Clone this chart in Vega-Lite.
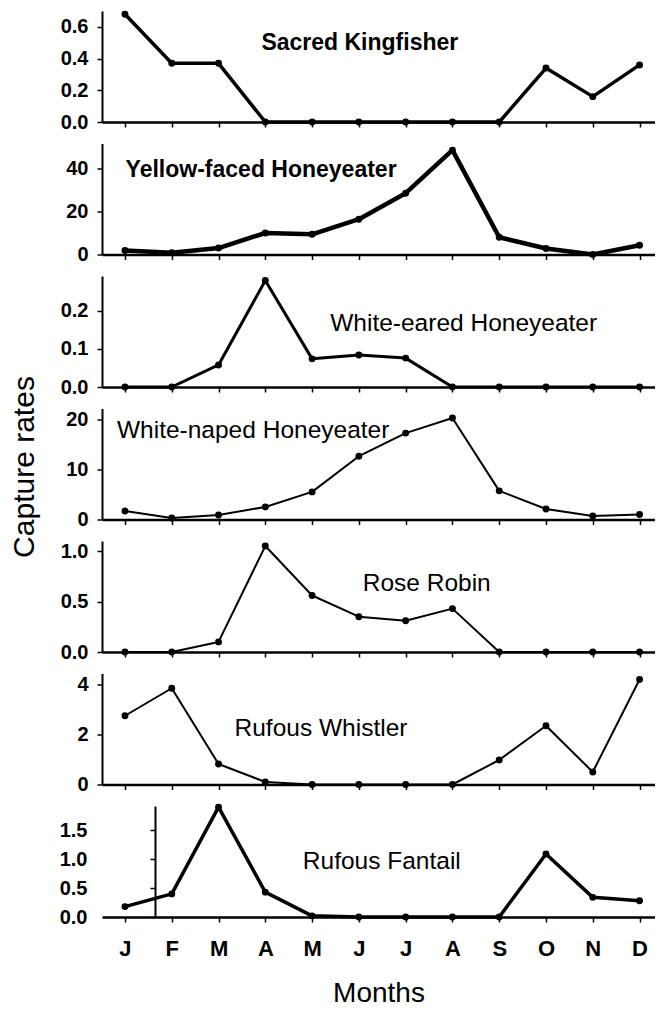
{
  "$schema": "https://vega.github.io/schema/vega-lite/v6.json",
  "padding": {"left": 9, "top": 10, "right": 0, "bottom": 0},
  "background": "white",
  "bounds": "flush",
  "spacing": 21.5,
  "datasets": {
    "rates": [
      {"species": "Sacred Kingfisher", "month": 1, "rate": 0.68},
      {"species": "Sacred Kingfisher", "month": 2, "rate": 0.37},
      {"species": "Sacred Kingfisher", "month": 3, "rate": 0.37},
      {"species": "Sacred Kingfisher", "month": 4, "rate": 0},
      {"species": "Sacred Kingfisher", "month": 5, "rate": 0},
      {"species": "Sacred Kingfisher", "month": 6, "rate": 0},
      {"species": "Sacred Kingfisher", "month": 7, "rate": 0},
      {"species": "Sacred Kingfisher", "month": 8, "rate": 0},
      {"species": "Sacred Kingfisher", "month": 9, "rate": 0},
      {"species": "Sacred Kingfisher", "month": 10, "rate": 0.34},
      {"species": "Sacred Kingfisher", "month": 11, "rate": 0.16},
      {"species": "Sacred Kingfisher", "month": 12, "rate": 0.36},
      {"species": "Yellow-faced Honeyeater", "month": 1, "rate": 1.9},
      {"species": "Yellow-faced Honeyeater", "month": 2, "rate": 0.8},
      {"species": "Yellow-faced Honeyeater", "month": 3, "rate": 3},
      {"species": "Yellow-faced Honeyeater", "month": 4, "rate": 10},
      {"species": "Yellow-faced Honeyeater", "month": 5, "rate": 9.4},
      {"species": "Yellow-faced Honeyeater", "month": 6, "rate": 16.4},
      {"species": "Yellow-faced Honeyeater", "month": 7, "rate": 28.5},
      {"species": "Yellow-faced Honeyeater", "month": 8, "rate": 48.5},
      {"species": "Yellow-faced Honeyeater", "month": 9, "rate": 8},
      {"species": "Yellow-faced Honeyeater", "month": 10, "rate": 2.8},
      {"species": "Yellow-faced Honeyeater", "month": 11, "rate": 0},
      {"species": "Yellow-faced Honeyeater", "month": 12, "rate": 4.3},
      {"species": "White-eared Honeyeater", "month": 1, "rate": 0},
      {"species": "White-eared Honeyeater", "month": 2, "rate": 0},
      {"species": "White-eared Honeyeater", "month": 3, "rate": 0.058},
      {"species": "White-eared Honeyeater", "month": 4, "rate": 0.28},
      {"species": "White-eared Honeyeater", "month": 5, "rate": 0.074},
      {"species": "White-eared Honeyeater", "month": 6, "rate": 0.084},
      {"species": "White-eared Honeyeater", "month": 7, "rate": 0.076},
      {"species": "White-eared Honeyeater", "month": 8, "rate": 0},
      {"species": "White-eared Honeyeater", "month": 9, "rate": 0},
      {"species": "White-eared Honeyeater", "month": 10, "rate": 0},
      {"species": "White-eared Honeyeater", "month": 11, "rate": 0},
      {"species": "White-eared Honeyeater", "month": 12, "rate": 0},
      {"species": "White-naped Honeyeater", "month": 1, "rate": 1.7},
      {"species": "White-naped Honeyeater", "month": 2, "rate": 0.3},
      {"species": "White-naped Honeyeater", "month": 3, "rate": 0.9},
      {"species": "White-naped Honeyeater", "month": 4, "rate": 2.5},
      {"species": "White-naped Honeyeater", "month": 5, "rate": 5.5},
      {"species": "White-naped Honeyeater", "month": 6, "rate": 12.6},
      {"species": "White-naped Honeyeater", "month": 7, "rate": 17.2},
      {"species": "White-naped Honeyeater", "month": 8, "rate": 20.2},
      {"species": "White-naped Honeyeater", "month": 9, "rate": 5.7},
      {"species": "White-naped Honeyeater", "month": 10, "rate": 2.1},
      {"species": "White-naped Honeyeater", "month": 11, "rate": 0.7},
      {"species": "White-naped Honeyeater", "month": 12, "rate": 1.0},
      {"species": "Rose Robin", "month": 1, "rate": 0},
      {"species": "Rose Robin", "month": 2, "rate": 0},
      {"species": "Rose Robin", "month": 3, "rate": 0.1},
      {"species": "Rose Robin", "month": 4, "rate": 1.05},
      {"species": "Rose Robin", "month": 5, "rate": 0.56},
      {"species": "Rose Robin", "month": 6, "rate": 0.35},
      {"species": "Rose Robin", "month": 7, "rate": 0.31},
      {"species": "Rose Robin", "month": 8, "rate": 0.43},
      {"species": "Rose Robin", "month": 9, "rate": 0},
      {"species": "Rose Robin", "month": 10, "rate": 0},
      {"species": "Rose Robin", "month": 11, "rate": 0},
      {"species": "Rose Robin", "month": 12, "rate": 0},
      {"species": "Rufous Whistler", "month": 1, "rate": 2.75},
      {"species": "Rufous Whistler", "month": 2, "rate": 3.85},
      {"species": "Rufous Whistler", "month": 3, "rate": 0.82},
      {"species": "Rufous Whistler", "month": 4, "rate": 0.1},
      {"species": "Rufous Whistler", "month": 5, "rate": 0},
      {"species": "Rufous Whistler", "month": 6, "rate": 0},
      {"species": "Rufous Whistler", "month": 7, "rate": 0},
      {"species": "Rufous Whistler", "month": 8, "rate": 0},
      {"species": "Rufous Whistler", "month": 9, "rate": 0.98},
      {"species": "Rufous Whistler", "month": 10, "rate": 2.35},
      {"species": "Rufous Whistler", "month": 11, "rate": 0.5},
      {"species": "Rufous Whistler", "month": 12, "rate": 4.2},
      {"species": "Rufous Fantail", "month": 1, "rate": 0.18},
      {"species": "Rufous Fantail", "month": 2, "rate": 0.4},
      {"species": "Rufous Fantail", "month": 3, "rate": 1.9},
      {"species": "Rufous Fantail", "month": 4, "rate": 0.43},
      {"species": "Rufous Fantail", "month": 5, "rate": 0.02},
      {"species": "Rufous Fantail", "month": 6, "rate": 0},
      {"species": "Rufous Fantail", "month": 7, "rate": 0},
      {"species": "Rufous Fantail", "month": 8, "rate": 0},
      {"species": "Rufous Fantail", "month": 9, "rate": 0},
      {"species": "Rufous Fantail", "month": 10, "rate": 1.09},
      {"species": "Rufous Fantail", "month": 11, "rate": 0.34},
      {"species": "Rufous Fantail", "month": 12, "rate": 0.28}
    ]
  },
  "config": {
    "view": {"stroke": null},
    "font": "Liberation Sans",
    "axis": {"grid": false, "domainColor": "#000", "tickColor": "#000", "labelColor": "#000", "titleColor": "#000", "tickSize": 5},
    "axisX": {"domainWidth": 2.5, "tickWidth": 1.5, "labelFont": "Liberation Sans", "labelFontWeight": "bold", "labelFontSize": 22, "labelPadding": 16, "labelFlush": false, "titleFont": "Liberation Sans", "titleFontSize": 28, "titleFontWeight": "normal", "titlePadding": 20},
    "axisY": {"domainWidth": 2, "tickWidth": 1.5, "labelFont": "Liberation Sans", "labelFontWeight": "bold", "labelFontSize": 20, "labelPadding": 9, "titleFont": "Liberation Sans", "titleFontSize": 30, "titleFontWeight": "normal"}
  },
  "vconcat": [
    {
      "width": 553, "height": 111,
      "data": {"name": "rates"},
      "transform": [{"filter": "datum.species === 'Sacred Kingfisher'"}],
      "encoding": {
        "x": {"field": "month", "type": "quantitative", "scale": {"domain": [0.509, 12.33], "nice": false, "zero": false}, "axis": {"values": [1,2,3,4,5,6,7,8,9,10,11,12], "labels": false, "title": null}},
        "y": {"field": "rate", "type": "quantitative", "scale": {"domain": [0, 0.7], "nice": false}, "axis": {"values": [0, 0.2, 0.4, 0.6], "format": ".1f", "title": null}}
      },
      "layer": [
        {"mark": {"type": "line", "color": "#000", "strokeWidth": 3.5, "strokeJoin": "round", "strokeCap": "round"}},
        {"mark": {"type": "point", "filled": true, "color": "#000", "size": 48, "opacity": 1}},
        {"transform": [{"filter": "datum.month === 1"}], "mark": {"type": "text", "font": "Liberation Sans", "fontSize": 23, "fontWeight": "bold", "color": "#000", "align": "center", "baseline": "middle"}, "encoding": {"x": {"datum": 6.02}, "y": {"datum": 0.5}, "text": {"field": "species"}}}
      ]
    },
    {
      "width": 553, "height": 111,
      "data": {"name": "rates"},
      "transform": [{"filter": "datum.species === 'Yellow-faced Honeyeater'"}],
      "encoding": {
        "x": {"field": "month", "type": "quantitative", "scale": {"domain": [0.509, 12.33], "nice": false, "zero": false}, "axis": {"values": [1,2,3,4,5,6,7,8,9,10,11,12], "labels": false, "title": null}},
        "y": {"field": "rate", "type": "quantitative", "scale": {"domain": [0, 51.6], "nice": false}, "axis": {"values": [0, 20, 40], "format": "d", "title": null}}
      },
      "layer": [
        {"mark": {"type": "line", "color": "#000", "strokeWidth": 4.5, "strokeJoin": "round", "strokeCap": "round"}},
        {"mark": {"type": "point", "filled": true, "color": "#000", "size": 48, "opacity": 1}},
        {"transform": [{"filter": "datum.month === 1"}], "mark": {"type": "text", "font": "Liberation Sans", "fontSize": 23, "fontWeight": "bold", "color": "#000", "align": "center", "baseline": "middle"}, "encoding": {"x": {"datum": 3.91}, "y": {"datum": 39.1}, "text": {"field": "species"}}}
      ]
    },
    {
      "width": 553, "height": 111,
      "data": {"name": "rates"},
      "transform": [{"filter": "datum.species === 'White-eared Honeyeater'"}],
      "encoding": {
        "x": {"field": "month", "type": "quantitative", "scale": {"domain": [0.509, 12.33], "nice": false, "zero": false}, "axis": {"values": [1,2,3,4,5,6,7,8,9,10,11,12], "labels": false, "title": null}},
        "y": {"field": "rate", "type": "quantitative", "scale": {"domain": [0, 0.292], "nice": false}, "axis": {"values": [0, 0.1, 0.2], "format": ".1f", "title": null}}
      },
      "layer": [
        {"mark": {"type": "line", "color": "#000", "strokeWidth": 3, "strokeJoin": "round", "strokeCap": "round"}},
        {"mark": {"type": "point", "filled": true, "color": "#000", "size": 48, "opacity": 1}},
        {"transform": [{"filter": "datum.month === 1"}], "mark": {"type": "text", "font": "Liberation Sans", "fontSize": 24.5, "fontWeight": "normal", "color": "#000", "align": "center", "baseline": "middle"}, "encoding": {"x": {"datum": 8.24}, "y": {"datum": 0.166}, "text": {"field": "species"}}}
      ]
    },
    {
      "width": 553, "height": 111,
      "data": {"name": "rates"},
      "transform": [{"filter": "datum.species === 'White-naped Honeyeater'"}],
      "encoding": {
        "x": {"field": "month", "type": "quantitative", "scale": {"domain": [0.509, 12.33], "nice": false, "zero": false}, "axis": {"values": [1,2,3,4,5,6,7,8,9,10,11,12], "labels": false, "title": null}},
        "y": {"field": "rate", "type": "quantitative", "scale": {"domain": [0, 22.1], "nice": false}, "axis": {"values": [0, 10, 20], "format": "d", "title": "Capture rates", "titleX": -78, "titleY": 58, "titleBaseline": "middle", "titleAngle": -90}}
      },
      "layer": [
        {"mark": {"type": "line", "color": "#000", "strokeWidth": 2, "strokeJoin": "round", "strokeCap": "round"}},
        {"mark": {"type": "point", "filled": true, "color": "#000", "size": 48, "opacity": 1}},
        {"transform": [{"filter": "datum.month === 1"}], "mark": {"type": "text", "font": "Liberation Sans", "fontSize": 24.5, "fontWeight": "normal", "color": "#000", "align": "center", "baseline": "middle"}, "encoding": {"x": {"datum": 3.74}, "y": {"datum": 17.7}, "text": {"field": "species"}}}
      ]
    },
    {
      "width": 553, "height": 111,
      "data": {"name": "rates"},
      "transform": [{"filter": "datum.species === 'Rose Robin'"}],
      "encoding": {
        "x": {"field": "month", "type": "quantitative", "scale": {"domain": [0.509, 12.33], "nice": false, "zero": false}, "axis": {"values": [1,2,3,4,5,6,7,8,9,10,11,12], "labels": false, "title": null}},
        "y": {"field": "rate", "type": "quantitative", "scale": {"domain": [0, 1.1], "nice": false}, "axis": {"values": [0, 0.5, 1.0], "format": ".1f", "title": null}}
      },
      "layer": [
        {"mark": {"type": "line", "color": "#000", "strokeWidth": 2, "strokeJoin": "round", "strokeCap": "round"}},
        {"mark": {"type": "point", "filled": true, "color": "#000", "size": 48, "opacity": 1}},
        {"transform": [{"filter": "datum.month === 1"}], "mark": {"type": "text", "font": "Liberation Sans", "fontSize": 24.5, "fontWeight": "normal", "color": "#000", "align": "center", "baseline": "middle"}, "encoding": {"x": {"datum": 7.45}, "y": {"datum": 0.67}, "text": {"field": "species"}}}
      ]
    },
    {
      "width": 553, "height": 111,
      "data": {"name": "rates"},
      "transform": [{"filter": "datum.species === 'Rufous Whistler'"}],
      "encoding": {
        "x": {"field": "month", "type": "quantitative", "scale": {"domain": [0.509, 12.33], "nice": false, "zero": false}, "axis": {"values": [1,2,3,4,5,6,7,8,9,10,11,12], "labels": false, "title": null}},
        "y": {"field": "rate", "type": "quantitative", "scale": {"domain": [0, 4.44], "nice": false}, "axis": {"values": [0, 2, 4], "format": "d", "title": null}}
      },
      "layer": [
        {"mark": {"type": "line", "color": "#000", "strokeWidth": 2, "strokeJoin": "round", "strokeCap": "round"}},
        {"mark": {"type": "point", "filled": true, "color": "#000", "size": 48, "opacity": 1}},
        {"transform": [{"filter": "datum.month === 1"}], "mark": {"type": "text", "font": "Liberation Sans", "fontSize": 24.5, "fontWeight": "normal", "color": "#000", "align": "center", "baseline": "middle"}, "encoding": {"x": {"datum": 5.19}, "y": {"datum": 2.24}, "text": {"field": "species"}}}
      ]
    },
    {
      "width": 553, "height": 111,
      "data": {"name": "rates"},
      "transform": [{"filter": "datum.species === 'Rufous Fantail'"}],
      "encoding": {
        "x": {"field": "month", "type": "quantitative", "scale": {"domain": [0.509, 12.33], "nice": false, "zero": false}, "axis": {"values": [1,2,3,4,5,6,7,8,9,10,11,12], "labelExpr": "['J','F','M','A','M','J','J','A','S','O','N','D'][datum.value - 1]", "title": "Months"}},
        "y": {"field": "rate", "type": "quantitative", "scale": {"domain": [0, 1.92], "nice": false}, "axis": {"values": [0, 0.5, 1.0, 1.5], "format": ".1f", "title": null, "offset": -53, "labelPadding": 63}}
      },
      "layer": [
        {"mark": {"type": "line", "color": "#000", "strokeWidth": 3.5, "strokeJoin": "round", "strokeCap": "round"}},
        {"mark": {"type": "point", "filled": true, "color": "#000", "size": 48, "opacity": 1}},
        {"transform": [{"filter": "datum.month === 1"}], "mark": {"type": "text", "font": "Liberation Sans", "fontSize": 24.5, "fontWeight": "normal", "color": "#000", "align": "center", "baseline": "middle"}, "encoding": {"x": {"datum": 6.49}, "y": {"datum": 0.95}, "text": {"field": "species"}}}
      ]
    }
  ]
}
